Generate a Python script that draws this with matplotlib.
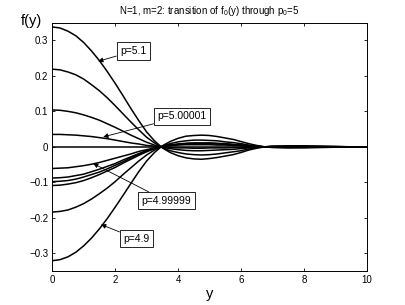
import matplotlib
matplotlib.use("Agg")
import matplotlib.pyplot as plt
import numpy as np

plt.rcParams['font.family'] = ['Liberation Sans', 'DejaVu Sans']
plt.rcParams['mathtext.fontset'] = 'custom'
plt.rcParams['mathtext.rm'] = 'Liberation Sans'

# y grid and f(y), one list per curve (top to bottom at y=0)
y_grid = list(np.arange(0, 7.01, 0.25)) + [7.5, 8, 8.5, 9, 9.5, 10]

f_a = [0.338, 0.335, 0.326, 0.313, 0.294, 0.270, 0.243, 0.212, 0.179, 0.144, 0.108, 0.074,
       0.042, 0.017, -0.003, -0.016, -0.025, -0.031, -0.034, -0.035, -0.033, -0.030, -0.026,
       -0.022, -0.016, -0.009, -0.004, 0.000, 0.002, 0.003, 0.003, 0.002, 0.001, 0.000, 0.0]
f_b = [0.219, 0.217, 0.211, 0.203, 0.191, 0.175, 0.158, 0.138, 0.116, 0.093, 0.070, 0.048,
       0.027, 0.011, -0.002, -0.011, -0.016, -0.020, -0.022, -0.023, -0.022, -0.020, -0.017,
       -0.014, -0.011, -0.006, -0.002, 0.000, 0.001, 0.002, 0.002, 0.001, 0.001, 0.000, 0.0]
f_c = [0.104, 0.103, 0.100, 0.096, 0.090, 0.083, 0.075, 0.065, 0.055, 0.044, 0.033, 0.023,
       0.013, 0.005, -0.001, -0.005, -0.008, -0.010, -0.011, -0.011, -0.010, -0.009, -0.008,
       -0.007, -0.005, -0.003, -0.001, 0.000, 0.001, 0.001, 0.001, 0.001, 0.000, 0.000, 0.0]
f_d = [0.035, 0.035, 0.034, 0.033, 0.031, 0.029, 0.026, 0.023, 0.019, 0.015, 0.011, 0.008,
       0.004, 0.002, 0.000, -0.002, -0.003, -0.003, -0.004, -0.004, -0.003, -0.003, -0.003,
       -0.002, -0.002, -0.001, 0.000, 0.000, 0.0, 0.0, 0.0, 0.0, 0.0, 0.0, 0.0]
f_e = [0.0] * 35
f_f = [-0.061, -0.060, -0.059, -0.056, -0.053, -0.049, -0.044, -0.038, -0.032, -0.026, -0.020,
       -0.013, -0.008, -0.003, 0.001, 0.003, 0.005, 0.006, 0.006, 0.006, 0.006, 0.005, 0.005,
       0.004, 0.003, 0.002, 0.001, 0.000, 0.000, -0.001, 0.000, 0.0, 0.0, 0.0, 0.0]
f_g = [-0.088, -0.087, -0.085, -0.081, -0.077, -0.070, -0.063, -0.055, -0.047, -0.037, -0.028,
       -0.019, -0.011, -0.004, 0.001, 0.004, 0.007, 0.008, 0.009, 0.009, 0.009, 0.008, 0.007,
       0.006, 0.004, 0.002, 0.001, 0.000, -0.001, -0.001, -0.001, -0.001, 0.000, 0.0, 0.0]
f_h = [-0.098, -0.097, -0.095, -0.091, -0.085, -0.078, -0.071, -0.062, -0.052, -0.042, -0.031,
       -0.021, -0.012, -0.005, 0.001, 0.005, 0.007, 0.009, 0.010, 0.010, 0.010, 0.009, 0.008,
       0.006, 0.005, 0.003, 0.001, 0.000, -0.001, -0.001, -0.001, -0.001, 0.000, 0.0, 0.0]
f_i = [-0.109, -0.108, -0.105, -0.101, -0.095, -0.087, -0.078, -0.068, -0.058, -0.046, -0.035,
       -0.024, -0.014, -0.005, 0.001, 0.005, 0.008, 0.010, 0.011, 0.011, 0.011, 0.010, 0.009,
       0.007, 0.005, 0.003, 0.001, 0.000, -0.001, -0.001, -0.001, -0.001, 0.000, 0.0, 0.0]
f_j = [-0.184, -0.182, -0.178, -0.170, -0.160, -0.147, -0.132, -0.116, -0.098, -0.078, -0.059,
       -0.040, -0.023, -0.009, 0.002, 0.009, 0.014, 0.017, 0.019, 0.019, 0.018, 0.017, 0.014,
       0.012, 0.009, 0.005, 0.002, 0.000, -0.001, -0.002, -0.001, -0.001, -0.001, 0.000, 0.0]
f_k = [-0.321, -0.318, -0.310, -0.297, -0.279, -0.257, -0.231, -0.202, -0.170, -0.137, -0.103,
       -0.070, -0.040, -0.016, 0.003, 0.015, 0.024, 0.030, 0.032, 0.033, 0.032, 0.029, 0.025,
       0.021, 0.015, 0.009, 0.004, 0.000, -0.002, -0.003, -0.003, -0.002, -0.001, 0.000, 0.0]

curves = [f_a, f_b, f_c, f_d, f_e, f_f, f_g, f_h, f_i, f_j, f_k]

# labels: text, where the arrow points, where the box sits
labels = ["p=5.1", "p=5.00001", "p=4.99999", "p=4.9"]
label_tip = [(1.46, 0.241), (1.62, 0.028), (1.30, -0.047), (1.55, -0.219)]
label_box = [(2.58, 0.270), (4.13, 0.086), (3.62, -0.152), (2.68, -0.259)]

x_ticks = [0, 2, 4, 6, 8, 10]
y_ticks = [-0.3, -0.2, -0.1, 0, 0.1, 0.2, 0.3]
y_tick_labels = ["\u22120.3", "\u22120.2", "\u22120.1", "0", "0.1", "0.2", "0.3"]

fig = plt.figure(figsize=(4.06, 3.05), dpi=100)
ax = fig.add_axes([0.1288, 0.1115, 0.7744, 0.8141])

for f in curves:
    ax.plot(y_grid, f, color='black', lw=1.1)

for txt, tip, box in zip(labels, label_tip, label_box):
    ax.annotate(txt, xy=tip, xytext=box, ha='center', va='center', fontsize=7.5,
                bbox=dict(boxstyle='square,pad=0.35', fc='white', ec='black', lw=0.6),
                arrowprops=dict(arrowstyle='-|>', color='black', lw=0.6,
                                mutation_scale=7, shrinkA=0, shrinkB=0))

ax.set_xlim(0, 10)
ax.set_ylim(-0.35, 0.35)
ax.set_xticks(x_ticks)
ax.set_xticklabels([str(t) for t in x_ticks])
ax.set_yticks(y_ticks)
ax.set_yticklabels(y_tick_labels)
ax.tick_params(direction='in', length=2.5, width=0.6, labelsize=7, top=True, right=True, pad=3)
for s in ax.spines.values():
    s.set_linewidth(0.7)

ax.set_title(r"N=1, m=2: transition of f$_0$(y) through p$_0$=5", fontsize=7, pad=6)
ax.set_xlabel("y", fontsize=10.5, labelpad=1)
fig.text(31 / 406, 1 - 21 / 305, "f(y)", fontsize=10.5, ha='center', va='center')

fig.savefig("out.png", dpi=100)
